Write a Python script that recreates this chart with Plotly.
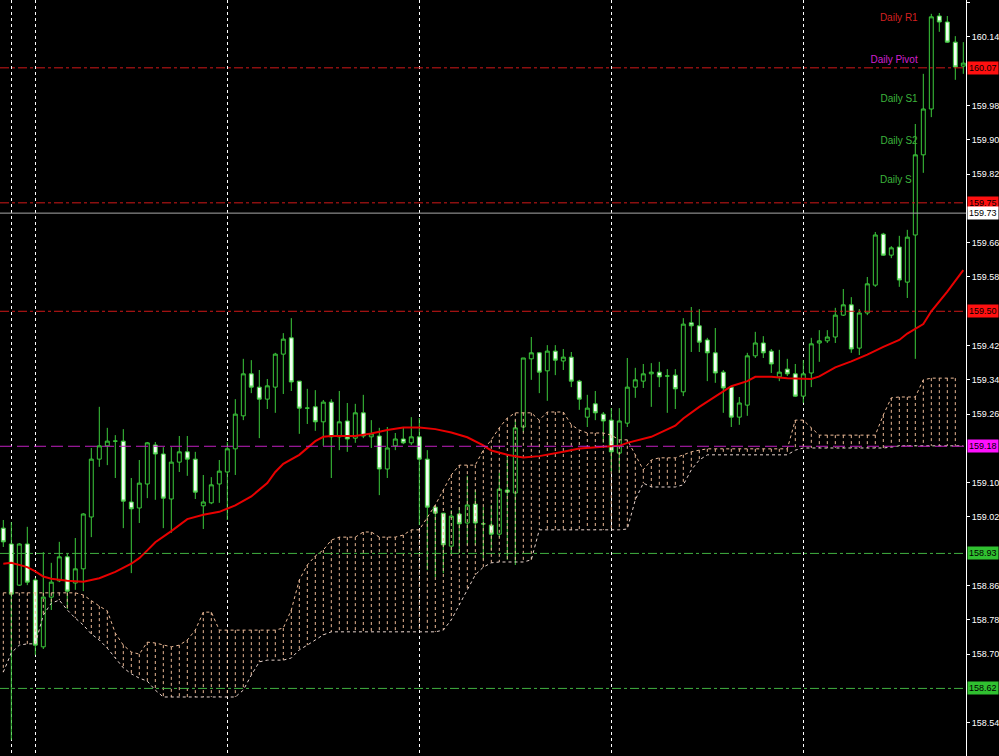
import plotly.graph_objects as go

# ---------------- data ----------------
bars = list(range(121))
open_ = [158.994,158.957,158.861,158.957,158.873,158.717,158.833,158.871,158.927,158.866,
         158.899,159.020,159.155,159.186,159.197,159.197,159.055,159.041,159.097,159.188,
         159.167,159.062,159.148,159.172,159.155,159.046,159.053,159.097,159.125,159.179,
         159.256,159.354,159.323,159.295,159.323,159.400,159.438,159.337,159.274,159.277,
         159.242,159.288,159.207,159.244,159.204,159.263,159.207,159.209,159.132,159.186,
         159.202,159.193,159.207,159.155,159.043,159.029,158.952,159.027,159.006,159.050,
         159.004,159.001,158.980,159.083,159.076,159.230,159.389,159.403,159.361,159.407,
         159.384,159.393,159.337,159.253,159.284,159.260,159.246,159.169,159.239,159.323,
         159.337,159.354,159.358,159.349,159.351,159.312,159.473,159.466,159.433,159.403,
         159.358,159.323,159.253,159.281,159.396,159.426,159.407,159.347,159.365,159.354,
         159.302,159.356,159.426,159.431,159.440,159.491,159.515,159.414,159.496,159.561,
         159.680,159.631,159.650,159.568,159.678,159.865,159.972,160.189,160.175,160.128,
         160.072]
high = [159.013,159.008,158.959,158.997,158.878,158.938,158.913,158.962,158.934,158.971,
        159.029,159.181,159.277,159.228,159.211,159.225,159.111,159.153,159.195,159.195,
        159.183,159.183,159.209,159.209,159.172,159.118,159.113,159.153,159.195,159.295,
        159.389,159.386,159.363,159.342,159.403,159.449,159.484,159.337,159.319,159.316,
        159.293,159.295,159.314,159.286,159.284,159.305,159.246,159.228,159.230,159.216,
        159.228,159.253,159.251,159.176,159.043,159.029,159.036,159.043,159.116,159.083,
        159.043,159.048,159.123,159.167,159.246,159.391,159.440,159.405,159.421,159.421,
        159.412,159.405,159.340,159.305,159.314,159.265,159.274,159.274,159.391,159.368,
        159.377,159.379,159.382,159.365,159.365,159.484,159.510,159.505,159.438,159.461,
        159.363,159.323,159.300,159.403,159.452,159.442,159.412,159.410,159.389,159.377,
        159.386,159.438,159.456,159.456,159.508,159.552,159.533,159.505,159.580,159.685,
        159.683,159.652,159.676,159.690,159.937,160.054,160.194,160.196,160.189,160.142,
        160.128]
low = [158.950,158.500,158.859,158.861,158.698,158.712,158.803,158.868,158.805,158.850,
       158.847,158.973,159.137,159.141,159.111,158.994,158.889,159.006,159.064,159.060,
       158.994,158.983,159.125,159.116,159.062,158.992,159.050,159.053,159.013,159.118,
       159.246,159.309,159.204,159.272,159.263,159.307,159.314,159.214,159.237,159.221,
       159.186,159.111,159.176,159.172,159.193,159.204,159.181,159.071,159.111,159.176,
       159.190,159.188,159.001,158.896,158.880,158.889,158.936,158.936,158.955,158.955,
       158.920,158.943,158.973,158.920,158.908,159.218,159.340,159.309,159.291,159.351,
       159.363,159.323,159.270,159.230,159.246,159.193,159.125,159.123,159.230,159.298,
       159.321,159.277,159.323,159.263,159.272,159.302,159.405,159.405,159.337,159.333,
       159.263,159.230,159.235,159.256,159.391,159.391,159.356,159.337,159.349,159.300,
       159.286,159.323,159.382,159.426,159.426,159.489,159.403,159.398,159.491,159.557,
       159.629,159.624,159.557,159.531,159.389,159.823,159.953,160.152,160.126,160.040,
       160.054]
close = [158.962,158.840,158.957,158.868,158.721,158.833,158.868,158.927,158.847,158.899,
         159.027,159.155,159.186,159.197,159.197,159.057,159.039,159.099,159.193,159.167,
         159.064,159.148,159.172,159.155,159.078,159.055,159.095,159.127,159.179,159.260,
         159.354,159.323,159.295,159.326,159.400,159.435,159.335,159.274,159.274,159.242,
         159.288,159.207,159.242,159.202,159.263,159.209,159.214,159.132,159.181,159.202,
         159.193,159.207,159.155,159.043,159.029,158.955,159.022,159.004,159.048,159.006,
         159.004,158.980,159.085,159.078,159.228,159.391,159.403,159.358,159.407,159.386,
         159.393,159.337,159.295,159.274,159.263,159.244,159.172,159.244,159.323,159.340,
         159.354,159.358,159.347,159.349,159.319,159.470,159.466,159.428,159.403,159.356,
         159.321,159.253,159.286,159.396,159.426,159.403,159.377,159.358,159.354,159.302,
         159.354,159.424,159.431,159.440,159.491,159.515,159.412,159.496,159.564,159.678,
         159.631,159.648,159.573,159.673,159.865,159.972,160.187,160.175,160.128,160.070,
         160.079]

# moving average (red line), read at these bars
ma_bar = [0,1,3,4,5,6,8,10,12,14,16,17,18,19,21,23,25,27,29,31,33,34,35,37,39,40,41,44,46,48,
          50,52,54,56,58,60,61,63,65,67,70,72,75,77,78,81,84,85,87,90,91,93,94,96,98,101,102,
          104,106,108,110,112,113,115,116,118,120]
ma_val = [158.911,158.913,158.903,158.893,158.881,158.876,158.871,158.869,158.877,158.892,
          158.911,158.924,158.942,158.961,158.987,159.015,159.025,159.032,159.047,159.068,
          159.099,159.125,159.144,159.165,159.197,159.207,159.209,159.209,159.215,159.223,
          159.229,159.229,159.225,159.217,159.206,159.187,159.175,159.165,159.159,159.162,
          159.172,159.180,159.184,159.186,159.193,159.207,159.233,159.250,159.277,159.313,
          159.325,159.337,159.347,159.347,159.344,159.342,159.348,159.369,159.383,159.399,
          159.417,159.433,159.448,159.470,159.500,159.546,159.596]

# Ichimoku cloud edges per bar
cloud_top = ([158.843]*10 + [158.838,158.824,158.812,158.801,158.749,158.721,158.705,158.700,
             158.728,158.726,158.721,158.717,158.721,158.733,158.756,158.798,158.798]
             + [158.756]*8 + [158.761,158.803,158.873,158.908,158.929,158.943,158.966,158.973,
             158.973,158.973,158.985,158.985,158.973,158.973,158.973,158.978,158.990,158.990,
             159.018,159.048,159.083,159.118,159.141,159.141,159.141,159.176,159.200,159.228,
             159.251,159.263,159.263,159.263,159.246,159.265,159.265,159.265,159.235,159.223,
             159.216,159.216,159.216,159.211,159.200,159.200,159.165,159.130,159.153,159.158,
             159.158,159.158,159.165,159.172,159.176] + [159.179]*11
             + [159.246,159.246,159.228,159.211] + [159.211]*7
             + [159.258,159.298,159.300,159.300,159.300,159.340,159.344,159.344,159.344,159.344])
cloud_bot = ([158.658,158.703,158.721,158.724,158.724,158.791,158.819,158.826,158.803,158.784,
             158.768,158.747,158.733,158.714,158.691,158.668,158.654,158.644,158.637,158.616]
             + [158.600]*10 + [158.616,158.651,158.682,158.686,158.686,158.686,158.691,158.710,
             158.721,158.733,158.745] + [158.752]*14 + [158.756,158.780,158.815,158.850,158.885,
             158.903,158.913,158.915,158.915,158.915,158.915,158.920] + [158.990]*11
             + [158.992,159.060,159.099,159.090,159.090,159.090,159.090,159.095,159.130,159.153]
             + [159.165]*11 + [159.176] + [159.181]*11 + [159.183] + [159.186]*9)

# vertical grid (day separators) at these bars
grid_bars = [1, 4, 28, 52, 76, 100]

# price axis labels
tick_vals = [160.22,160.14,159.98,159.90,159.82,159.66,159.58,159.42,159.34,159.26,
             159.10,159.02,158.86,158.78,158.70,158.54]
tick_text = ["160.22","160.14","159.98","159.90","159.82","159.66","159.58","159.42","159.34",
             "159.26","159.10","159.02","158.86","158.78","158.70","158.54"]

# horizontal levels
level_price = [160.068, 159.753, 159.729, 159.500, 159.185, 158.935, 158.620]
level_label = ["160.07","159.75","159.73","159.50","159.18","158.93","158.62"]
level_color = ["#D01818","#D01818","#A8A8A8","#D01818","#C020C0","#40B040","#40B040"]
level_dash = ["dashdot","dashdot","solid","dashdot","12px,5px","dashdot","dashdot"]
level_box = ["#FF1010","#FF1010","#FFFFFF","#FF1010","#FF10FF","#30C030","#30C030"]

# pivot text labels
piv_text = ["Daily R1","Daily Pivot","Daily S1","Daily S2","Daily S"]
piv_price = [160.182,160.084,159.993,159.895,159.804]
piv_color = ["#D42020","#D020D0","#3CB43C","#3CB43C","#3CB43C"]
piv_bar = [114.3, 114.3, 114.3, 114.3, 113.55]

# ---------------- figure ----------------
fig = go.Figure()

hx, hy = [], []
for b, t, lo in zip(bars, cloud_top, cloud_bot):
    hx += [b, b, None]
    hy += [t, lo, None]
cloud_col = "rgb(236,186,150)"
fig.add_trace(go.Scatter(x=hx, y=hy, mode="lines",
                         line=dict(color=cloud_col, width=1, dash="3px,3px"),
                         hoverinfo="skip"))
fig.add_trace(go.Scatter(x=bars, y=cloud_top, mode="lines",
                         line=dict(color=cloud_col, width=1, dash="3px,3px"), hoverinfo="skip"))
fig.add_trace(go.Scatter(x=bars, y=cloud_bot, mode="lines",
                         line=dict(color="rgb(232,212,205)", width=1, dash="3px,3px"),
                         hoverinfo="skip"))

fig.add_trace(go.Candlestick(
    x=bars, open=open_, high=high, low=low, close=close,
    increasing=dict(line=dict(color="#3CCB3C", width=1), fillcolor="#000000"),
    decreasing=dict(line=dict(color="#3CCB3C", width=1), fillcolor="#F2FFF2"),
    whiskerwidth=0, hoverinfo="skip"))

fig.add_trace(go.Scatter(x=ma_bar, y=ma_val, mode="lines",
                         line=dict(color="#E80000", width=2), hoverinfo="skip"))

fig.add_trace(go.Scatter(x=piv_bar, y=piv_price, mode="text",
                         text=piv_text, textposition="middle left",
                         textfont=dict(color=piv_color, size=10, family="Liberation Sans"),
                         hoverinfo="skip"))

shapes = []
annotations = []
for p, lab, c, d, bc in zip(level_price, level_label, level_color, level_dash, level_box):
    shapes.append(dict(type="line", xref="paper", x0=0, x1=1, yref="y", y0=p, y1=p,
                       line=dict(color=c, width=1, dash=d), layer="above"))
    annotations.append(dict(xref="paper", x=1, xanchor="left", xshift=1, yref="y", y=p,
                            yanchor="middle", text=lab, showarrow=False, bgcolor=bc,
                            borderpad=1, font=dict(color="#000000", size=9,
                                                   family="Liberation Sans")))

fig.update_layout(
    width=999, height=756,
    margin=dict(l=0, r=33, t=0, b=0, autoexpand=False),
    paper_bgcolor="#000000", plot_bgcolor="#000000",
    showlegend=False, hovermode=False,
    shapes=shapes, annotations=annotations,
    xaxis=dict(range=[-0.4125, 120.3375], tickvals=grid_bars, showticklabels=False,
               showgrid=True, gridcolor="#FFFFFF", gridwidth=1, griddash="3px,3px",
               zeroline=False, showline=False, ticks="", automargin=False,
               rangeslider=dict(visible=False)),
    yaxis=dict(side="right", range=[158.4623, 160.2263], tickvals=tick_vals, ticktext=tick_text,
               showgrid=False, zeroline=False, showline=True, linecolor="#FFFFFF", linewidth=1,
               ticks="outside", ticklen=3, tickcolor="#FFFFFF", automargin=False,
               tickfont=dict(color="#FFFFFF", size=9, family="Liberation Sans")),
)

fig.write_html("out.html", config={"displayModeBar": False},
               post_script="document.body.style.margin='0';"
                           "document.body.style.overflow='hidden';"
                           "document.body.style.background='#000';")
